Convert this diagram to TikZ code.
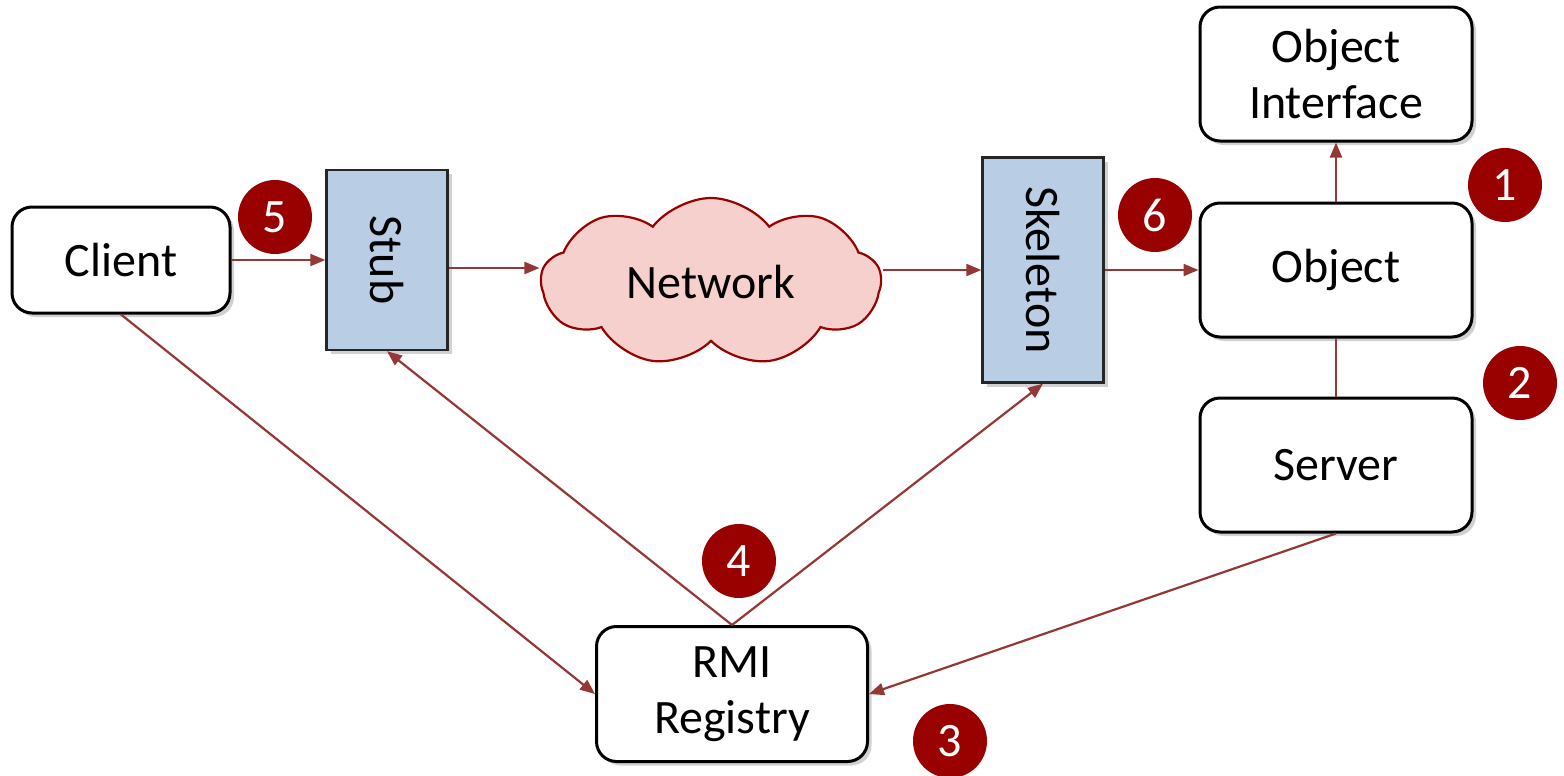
\documentclass[tikz,border=0pt]{standalone}
\usepackage{fontspec}
\setmainfont{Carlito}
\usepackage{graphicx}
\usetikzlibrary{shapes.symbols,shadows,arrows.meta}
\definecolor{arrred}{HTML}{953735}
\definecolor{circred}{HTML}{990000}
\definecolor{stubblue}{HTML}{B9CDE5}
\definecolor{cloudpink}{HTML}{F6D0CC}
\begin{document}
\begin{tikzpicture}[x=0.5pt,y=-0.5pt,
  lbl/.style={font=\fontsize{24}{28}\selectfont, align=center},
  rbox/.style={lbl, draw=black, line width=1.5pt, rounded corners=10pt, fill=white,
    inner sep=0pt,
    drop shadow={shadow xshift=2pt, shadow yshift=-2pt, opacity=0.3, fill=black!60}},
  sbox/.style={lbl, draw=black!85, line width=1.2pt, fill=stubblue, inner sep=0pt,
    minimum width=60.5pt,
    drop shadow={shadow xshift=2pt, shadow yshift=-2pt, opacity=0.3, fill=black!60}},
  numc/.style={circle, fill=circred, text=white, minimum size=37pt, inner sep=0pt,
    font=\fontsize{24}{26}\selectfont},
  arr/.style={draw=arrred, line width=1.1pt, -{Triangle[length=7.5pt,width=6pt]}},
  ln/.style={draw=arrred, line width=1.1pt}]
\useasboundingbox (0,0) rectangle (1564,776);

\node[rbox, minimum width=109pt, minimum height=53pt] (client) at (121,260) {Client};
\node[sbox, minimum height=90pt] (stub) at (387,260) {\rotatebox{-90}{Stub}};
\node[cloud, cloud puffs=9, cloud puff arc=105, aspect=2, draw=circred, line width=1.1pt,
  fill=cloudpink, inner sep=0pt, minimum width=170pt, minimum height=84pt, lbl] (net) at (711,282) {Network};
\node[sbox, minimum height=112.5pt] (skel) at (1043,270) {\rotatebox{-90}{Skeleton}};
\node[rbox, minimum width=136pt, minimum height=67pt] (oi) at (1336,74) {Object\\Interface};
\node[rbox, minimum width=136pt, minimum height=67pt] (obj) at (1336,270) {Object};
\node[rbox, minimum width=136pt, minimum height=67pt] (srv) at (1336,465) {Server};
\node[rbox, minimum width=135.5pt, minimum height=67.5pt] (rmi) at (732,694) {RMI\\Registry};

\node[numc] (n1) at (1505,185) {1};
\node[numc] (n2) at (1520,383) {2};
\node[numc] (n3) at (950,741) {3};
\node[numc] (n4) at (739,561) {4};
\node[numc] (n5) at (275,217) {5};
\node[numc] (n6) at (1155,215) {6};

\draw[arr] (client.east) -- (client.east -| stub.west);
\draw[arr] ([yshift=-4pt]stub.east) -- ([yshift=-4pt]stub.east -| net.west);
\draw[arr] (net.east |- skel.west) -- (skel.west);
\draw[arr] (skel.east) -- (skel.east -| obj.west);
\draw[arr] (obj.north) -- (oi.south);
\draw[ln] (srv.north) -- (obj.south);
\draw[arr] (client.south) -- (rmi.west);
\draw[arr] (rmi.north) -- (stub.south);
\draw[arr] (rmi.north) -- (skel.south);
\draw[arr] (srv.south) -- (rmi.east);
\end{tikzpicture}
\end{document}
